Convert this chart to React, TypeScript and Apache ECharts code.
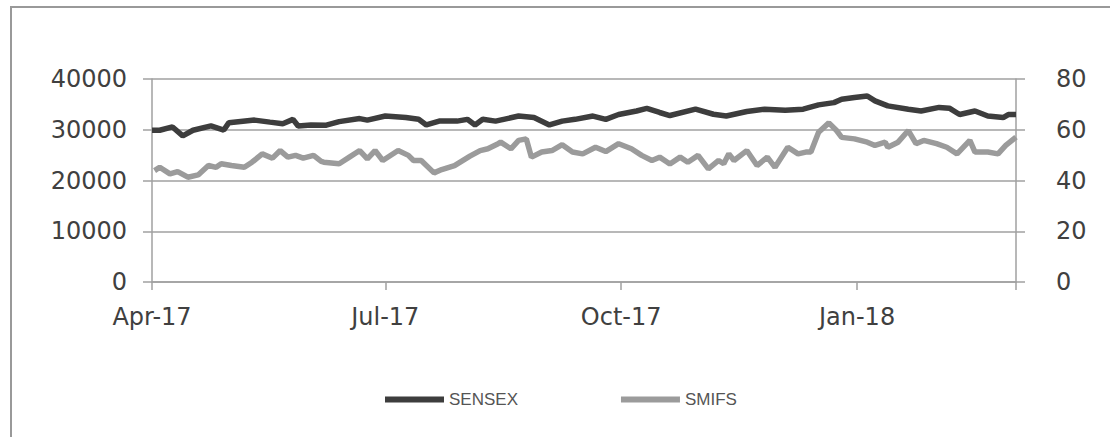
import React, { useEffect, useRef } from "react";
import * as echarts from "echarts";

const seriesNames = ["SENSEX", "SMIFS"];

const sensexDates = [
  "2017-04-01", "2017-04-04", "2017-04-09", "2017-04-13", "2017-04-17", "2017-04-24", "2017-04-29",
  "2017-05-01", "2017-05-11", "2017-05-17", "2017-05-22", "2017-05-26", "2017-05-28",
  "2017-06-02", "2017-06-08", "2017-06-13", "2017-06-21", "2017-06-24",
  "2017-07-01", "2017-07-09", "2017-07-14", "2017-07-17", "2017-07-22", "2017-07-29",
  "2017-08-02", "2017-08-05", "2017-08-08", "2017-08-13", "2017-08-22", "2017-08-28",
  "2017-09-03", "2017-09-08", "2017-09-13", "2017-09-20", "2017-09-25", "2017-09-30",
  "2017-10-07", "2017-10-11", "2017-10-16", "2017-10-20", "2017-10-30",
  "2017-11-06", "2017-11-11", "2017-11-19", "2017-11-26",
  "2017-12-04", "2017-12-11", "2017-12-17", "2017-12-23", "2017-12-26", "2017-12-31",
  "2018-01-05", "2018-01-08", "2018-01-13", "2018-01-21", "2018-01-26",
  "2018-02-02", "2018-02-06", "2018-02-10", "2018-02-16", "2018-02-21", "2018-02-27",
  "2018-03-01", "2018-03-04",
];
const sensexValues = [
  29900, 29900, 30550, 28800, 29900, 30750, 29950,
  31400, 31900, 31500, 31200, 32050, 30750,
  30950, 30900, 31600, 32200, 31900,
  32700, 32400, 32050, 30950, 31700, 31700,
  32050, 30950, 32050, 31700, 32700, 32400,
  30950, 31700, 32050, 32700, 32050, 33000,
  33700, 34200, 33400, 32800, 34050,
  33050, 32700, 33600, 34050,
  33850, 34050, 34900, 35350, 36000, 36350,
  36650, 35700, 34700, 34050, 33700,
  34400, 34250, 33000, 33700, 32700, 32400,
  33000, 33000,
];

const smifsDates = [
  "2017-04-02", "2017-04-04", "2017-04-08", "2017-04-11", "2017-04-15", "2017-04-19", "2017-04-23",
  "2017-04-26", "2017-04-28", "2017-05-02", "2017-05-07", "2017-05-10", "2017-05-14", "2017-05-18",
  "2017-05-21", "2017-05-24", "2017-05-27", "2017-05-30", "2017-06-03", "2017-06-06", "2017-06-07",
  "2017-06-13", "2017-06-17", "2017-06-21", "2017-06-24", "2017-06-27", "2017-06-30",
  "2017-07-06", "2017-07-10", "2017-07-12", "2017-07-15", "2017-07-20", "2017-07-23", "2017-07-28",
  "2017-08-03", "2017-08-07", "2017-08-10", "2017-08-14", "2017-08-15", "2017-08-19", "2017-08-22",
  "2017-08-25", "2017-08-27", "2017-08-31", "2017-09-04", "2017-09-08", "2017-09-12", "2017-09-16",
  "2017-09-21", "2017-09-25", "2017-09-30", "2017-10-05", "2017-10-09", "2017-10-13", "2017-10-16",
  "2017-10-19", "2017-10-20", "2017-10-24", "2017-10-27", "2017-10-31", "2017-11-04", "2017-11-08",
  "2017-11-10", "2017-11-12", "2017-11-14", "2017-11-19", "2017-11-23", "2017-11-27", "2017-11-30",
  "2017-12-05", "2017-12-09", "2017-12-12", "2017-12-14", "2017-12-17", "2017-12-21", "2017-12-24",
  "2017-12-26", "2017-12-31", "2018-01-05", "2018-01-08", "2018-01-12", "2018-01-13", "2018-01-17",
  "2018-01-21", "2018-01-24", "2018-01-27", "2018-02-01", "2018-02-05", "2018-02-09", "2018-02-14",
  "2018-02-16", "2018-02-21", "2018-02-25", "2018-02-28", "2018-03-04",
];
const smifsValues = [
  43.9, 45.2, 42.6, 43.5, 41.3, 42.2, 45.9,
  45.2, 46.6, 45.9, 45.2, 47.2, 50.5, 48.8,
  51.8, 49.2, 49.9, 48.8, 49.9, 47.5, 47.2,
  46.6, 49.2, 51.8, 48.5, 51.8, 47.9,
  51.8, 49.9, 47.9, 47.9, 43.0, 44.3, 45.9,
  49.6, 51.8, 52.5, 54.5, 55.1, 52.5, 55.8,
  56.4, 49.2, 51.2, 51.8, 54.1, 51.2, 50.5,
  53.1, 51.4, 54.5, 52.5, 49.9, 47.9, 49.2,
  47.2, 46.5, 49.2, 47.2, 49.9, 44.6, 47.9,
  46.6, 50.5, 47.9, 51.8, 45.9, 49.2, 45.2,
  53.1, 50.5, 51.2, 51.2, 59.0, 62.7, 59.7,
  57.0, 56.4, 55.1, 53.8, 55.1, 53.1, 55.1,
  59.7, 54.5, 55.8, 54.5, 53.1, 50.5, 55.8,
  51.2, 51.2, 50.5, 53.8, 57.1,
];

const leftTicks = [0, 10000, 20000, 30000, 40000];
const rightTicks = [0, 20, 40, 60, 80];
const xLabelDates = ["2017-04-01", "2017-07-01", "2017-10-01", "2018-01-01"];
const xLabels = ["Apr-17", "Jul-17", "Oct-17", "Jan-18"];
const xStart = "2017-04-01";
const xEnd = "2018-03-04";

const ts = (s: string) => {
  const [y, m, d] = s.split("-").map(Number);
  return Date.UTC(y, m - 1, d);
};

export default function App() {
  const ref = useRef<HTMLDivElement>(null);

  useEffect(() => {
    document.body.style.margin = "0";
    if (!ref.current) return;
    const chart = echarts.init(ref.current, undefined, { renderer: "svg" });
    const axisFont = "'DejaVu Sans', 'Liberation Sans', sans-serif";
    const labelTs = xLabelDates.map(ts);
    const gridColor = "#a0a0a0";

    chart.setOption({
      animation: false,
      backgroundColor: "#ffffff",
      grid: { left: 152, right: 94, top: 79, bottom: 155, containLabel: false },
      graphic: [
        {
          type: "rect",
          silent: true,
          z: -10,
          shape: { x: 11, y: 7, width: 1400, height: 700 },
          style: { fill: "none", stroke: "#999999", lineWidth: 2 },
        },
      ],
      legend: {
        data: seriesNames,
        left: 380,
        top: 386,
        icon: "rect",
        itemWidth: 59,
        itemHeight: 6,
        itemGap: 103,
        textStyle: {
          fontFamily: "'Liberation Sans Narrow', 'Arial Narrow', 'Liberation Sans', sans-serif",
          fontSize: 17,
          color: "#555555",
        },
      },
      xAxis: {
        type: "value",
        min: ts(xStart),
        max: ts(xEnd),
        axisLine: { show: true, lineStyle: { color: gridColor, width: 1.5 } },
        axisTick: {
          show: true,
          length: 8,
          customValues: [...labelTs, ts(xEnd)],
          lineStyle: { color: gridColor, width: 1.5 },
        },
        splitLine: { show: false },
        axisLabel: {
          customValues: labelTs,
          margin: 23,
          fontFamily: axisFont,
          fontSize: 24,
          color: "#404040",
          formatter: (v: number) => {
            const i = labelTs.indexOf(v);
            return i >= 0 ? xLabels[i] : "";
          },
        },
      },
      yAxis: [
        {
          type: "value",
          min: leftTicks[0],
          max: leftTicks[leftTicks.length - 1],
          interval: leftTicks[1] - leftTicks[0],
          axisLine: { show: true, lineStyle: { color: gridColor, width: 1.5 } },
          axisTick: { show: true, length: 9, lineStyle: { color: gridColor, width: 1.5 } },
          splitLine: { show: true, lineStyle: { color: gridColor, width: 1.5 } },
          axisLabel: {
            margin: 25,
            fontFamily: axisFont,
            fontSize: 24,
            color: "#404040",
            formatter: (v: number) => String(v),
          },
        },
        {
          type: "value",
          position: "right",
          min: rightTicks[0],
          max: rightTicks[rightTicks.length - 1],
          interval: rightTicks[1] - rightTicks[0],
          axisLine: { show: true, lineStyle: { color: gridColor, width: 1.5 } },
          axisTick: { show: true, length: 9, lineStyle: { color: gridColor, width: 1.5 } },
          splitLine: { show: false },
          axisLabel: {
            margin: 40,
            fontFamily: axisFont,
            fontSize: 24,
            color: "#404040",
            formatter: (v: number) => String(v),
          },
        },
      ],
      series: [
        {
          name: seriesNames[0],
          type: "line",
          yAxisIndex: 0,
          showSymbol: false,
          symbol: "none",
          color: "#3d3d3d",
          lineStyle: { color: "#3d3d3d", width: 5.5 },
          data: sensexDates.map((d, i) => [ts(d), sensexValues[i]]),
          z: 3,
        },
        {
          name: seriesNames[1],
          type: "line",
          yAxisIndex: 1,
          showSymbol: false,
          symbol: "none",
          color: "#9b9b9b",
          lineStyle: { color: "#9b9b9b", width: 5.5 },
          data: smifsDates.map((d, i) => [ts(d), smifsValues[i]]),
          z: 2,
        },
      ],
    });

    return () => chart.dispose();
  }, []);

  return <div ref={ref} style={{ width: 1110, height: 437 }} />;
}
